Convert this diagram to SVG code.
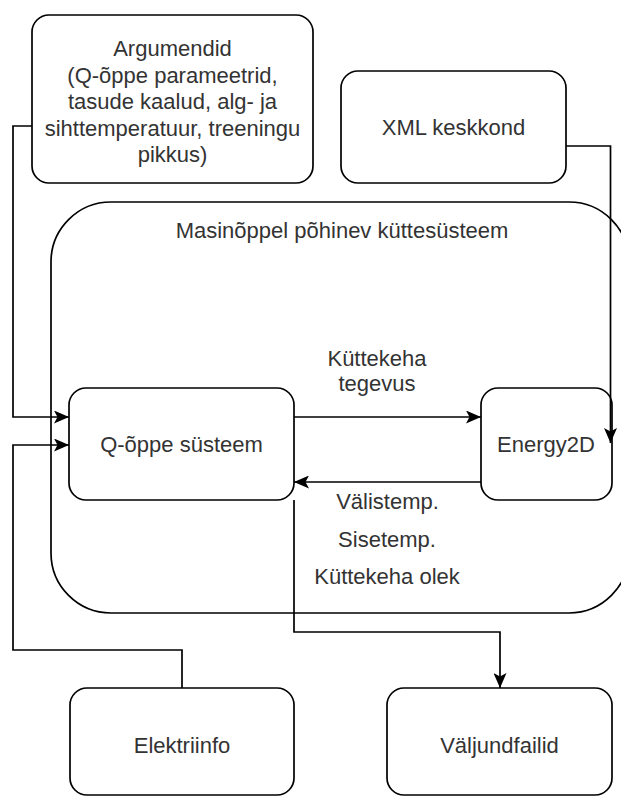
<svg xmlns="http://www.w3.org/2000/svg" width="621" height="796" viewBox="0 0 621 796">
<style>
.box{fill:#fff;stroke:#000;stroke-width:1.7}
.lbl{font-family:"Liberation Sans",Arial,sans-serif;font-size:22px;fill:#333;text-anchor:middle}
.edge{fill:none;stroke:#000;stroke-width:1.7}
</style>
<defs>
<marker id="arr" viewBox="0 0 15 13" refX="15" refY="6.5" markerWidth="15" markerHeight="13" markerUnits="userSpaceOnUse" orient="auto">
<path d="M0,0 L15,6.5 L0,13 L3.5,6.5 Z" fill="#000"/>
</marker>
</defs>
<rect width="621" height="796" fill="#fff"/>
<g id="container">
<rect class="box" x="51" y="202" width="578" height="411" rx="60" ry="60"/>
<text class="lbl" x="342" y="238">Masinõppel põhinev küttesüsteem</text>
</g>
<g id="argumendid">
<rect class="box" x="32" y="15" width="281" height="168" rx="17" ry="17"/>
<text class="lbl" x="172.5" y="56">Argumendid</text>
<text class="lbl" x="172.5" y="82.5">(Q-õppe parameetrid,</text>
<text class="lbl" x="172.5" y="109">tasude kaalud, alg- ja</text>
<text class="lbl" x="172.5" y="135.5">sihttemperatuur, treeningu</text>
<text class="lbl" x="172.5" y="162">pikkus)</text>
</g>
<g id="xml">
<rect class="box" x="341" y="71" width="225" height="112" rx="17" ry="17"/>
<text class="lbl" x="453.5" y="135">XML keskkond</text>
</g>
<g id="qoppe">
<rect class="box" x="69" y="388" width="225" height="112" rx="17" ry="17"/>
<text class="lbl" x="181.5" y="452">Q-õppe süsteem</text>
</g>
<g id="energy2d">
<rect class="box" x="481" y="388" width="131" height="112" rx="17" ry="17"/>
<text class="lbl" x="546" y="452">Energy2D</text>
</g>
<g id="elektriinfo">
<rect class="box" x="70" y="688" width="224" height="107" rx="17" ry="17"/>
<text class="lbl" x="182" y="753">Elektriinfo</text>
</g>
<g id="valjundfailid">
<rect class="box" x="387" y="688" width="225" height="107" rx="17" ry="17"/>
<text class="lbl" x="499.5" y="753">Väljundfailid</text>
</g>
<g id="connectors">
<path class="edge" d="M32,126 H13 V417 H69" marker-end="url(#arr)"/>
<path class="edge" d="M182,688 V650 H13 V445 H69" marker-end="url(#arr)"/>
<path class="edge" d="M566,146 H610.5 V443" marker-end="url(#arr)"/>
<path class="edge" d="M294,417 H481" marker-end="url(#arr)"/>
<path class="edge" d="M481,482 H294" marker-end="url(#arr)"/>
<path class="edge" d="M294,500 V632 H500 V688" marker-end="url(#arr)"/>
<text class="lbl" x="377" y="366">Küttekeha</text>
<text class="lbl" x="377" y="391">tegevus</text>
<text class="lbl" x="387.5" y="509">Välistemp.</text>
<text class="lbl" x="387" y="547">Sisetemp.</text>
<text class="lbl" x="387" y="584">Küttekeha olek</text>
</g>
</svg>
